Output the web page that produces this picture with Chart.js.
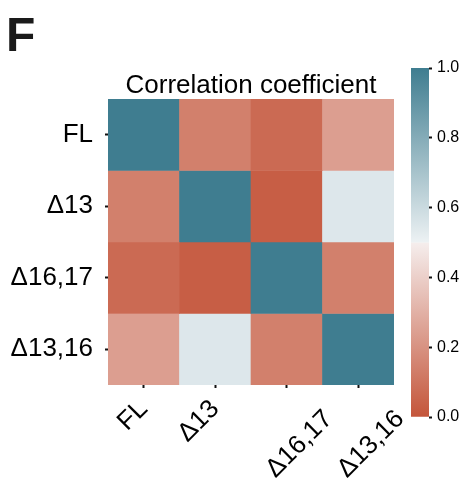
<!DOCTYPE html>
<html>
<head>
<meta charset="utf-8">
<script src="https://cdn.jsdelivr.net/npm/chart.js@4.4.1/dist/chart.umd.min.js"></script>
<style>
    body { margin: 0; background: #fff; }
    #wrap { position: relative; width: 463px; height: 482px; }
    #panel { position: absolute; left: 6px; top: 11px; font: bold 48px "Liberation Sans", Arial, sans-serif; line-height: 1; color: #1a1a1a; }
    #heat { position: absolute; left: 0; top: 0; }
    #cbar { position: absolute; left: 400px; top: 40px; }
</style>
</head>
<body>
<div id="wrap">
    <canvas id="heat" width="463" height="482"></canvas>
    <canvas id="cbar" width="63" height="400"></canvas>
    <div id="panel">F</div>
</div>
<script>
var rowLabels = ["FL", "Δ13", "Δ16,17", "Δ13,16"];
var colLabels = ["FL", "Δ13", "Δ16,17", "Δ13,16"];
var corrFL = [1.0, 0.14, 0.07, 0.24];
var corrD13 = [0.14, 1.0, 0.03, 0.545];
var corrD1617 = [0.07, 0.03, 1.0, 0.14];
var corrD1316 = [0.24, 0.545, 0.14, 1.0];
var corrRows = [corrFL, corrD13, corrD1617, corrD1316];
var cbarTicks = [0, 0.2, 0.4, 0.6, 0.8, 1.0];

// diverging map, red at 0, light grey at 0.5, teal at 1
var cmapPos = [0, 0.497, 0.5, 0.503, 1];
var cmapRgb = [[196, 85, 58], [245, 237, 236], [242, 242, 242], [236, 241, 243], [63, 125, 144]];

function cmap(v) {
    v = Math.max(0, Math.min(1, v));
    for (var i = 1; i < cmapPos.length; i++) {
        if (v <= cmapPos[i]) {
            var t = (v - cmapPos[i - 1]) / (cmapPos[i] - cmapPos[i - 1]);
            var a = cmapRgb[i - 1], b = cmapRgb[i];
            return "rgb(" + [0, 1, 2].map(function (k) { return Math.round(a[k] + (b[k] - a[k]) * t); }).join(",") + ")";
        }
    }
    return "rgb(" + cmapRgb[cmapRgb.length - 1].join(",") + ")";
}

Chart.defaults.font.family = '"Liberation Sans", Arial, sans-serif';
Chart.defaults.color = "#000";

var tickGrid = { drawOnChartArea: false, drawTicks: true, tickLength: 3, tickWidth: 2, tickColor: "#111", offset: false };

new Chart(document.getElementById("heat"), {
    type: "bar",
    data: {
        labels: colLabels,
        datasets: rowLabels.map(function (name, r) {
            return {
                label: name,
                data: colLabels.map(function () { return [r, r + 1]; }),
                backgroundColor: corrRows[r].map(cmap),
                borderWidth: 0,
                barPercentage: 1,
                categoryPercentage: 1,
                grouped: false,
                xAxisID: "x",
                yAxisID: "y"
            };
        })
    },
    options: {
        responsive: false,
        animation: false,
        layout: { padding: { top: 73, left: 0, right: 69, bottom: 0 }, autoPadding: false },
        plugins: {
            legend: { display: false },
            tooltip: { enabled: false },
            title: {
                display: true,
                text: "Correlation coefficient",
                fullSize: false,
                color: "#000",
                font: { size: 26, weight: "normal", lineHeight: 1 },
                padding: { top: 0, bottom: 0 }
            }
        },
        scales: {
            x: {
                type: "category",
                position: "bottom",
                offset: true,
                grid: tickGrid,
                border: { display: false },
                ticks: {
                    autoSkip: false, minRotation: 45, maxRotation: 45, padding: 6,
                    font: { size: 26 }, color: "#000",
                    callback: function (v, i) { return i < 2 ? colLabels[i] : ""; }
                },
                afterFit: function (s) { s.height = 97; }
            },
            // second label row for the two long names, which sit further right in the original
            x2: {
                type: "category",
                position: { y: 4 },
                offset: true,
                grid: { display: false, drawTicks: false },
                border: { display: false },
                ticks: {
                    autoSkip: false, minRotation: 45, maxRotation: 45, padding: 19, labelOffset: 42,
                    font: { size: 26 }, color: "#000",
                    callback: function (v, i) { return i >= 2 ? colLabels[i] : ""; }
                }
            },
            y: {
                type: "linear",
                min: 0,
                max: 4,
                reverse: true,
                grid: tickGrid,
                border: { display: false },
                afterBuildTicks: function (s) {
                    s.ticks = rowLabels.map(function (n, i) { return { value: i + 0.5 }; });
                },
                ticks: {
                    padding: 12, font: { size: 26 }, color: "#000",
                    callback: function (v) { return rowLabels[Math.floor(v)]; }
                },
                afterFit: function (s) { s.width = 108; }
            }
        }
    }
});

new Chart(document.getElementById("cbar"), {
    type: "bar",
    data: {
        labels: ["r"],
        datasets: [{
            data: [[0, 1]],
            borderWidth: 0,
            barPercentage: 1,
            categoryPercentage: 1,
            backgroundColor: function (ctx) {
                var a = ctx.chart.chartArea;
                if (!a) return "#ccc";
                var g = ctx.chart.ctx.createLinearGradient(0, a.bottom, 0, a.top);
                cmapPos.forEach(function (p) { g.addColorStop(p, cmap(p)); });
                return g;
            }
        }]
    },
    options: {
        responsive: false,
        animation: false,
        layout: { padding: { top: 28, left: 11, right: 0, bottom: 23 }, autoPadding: false },
        plugins: { legend: { display: false }, tooltip: { enabled: false } },
        scales: {
            x: { display: false },
            y: {
                position: "right",
                min: 0,
                max: 1,
                grid: { drawOnChartArea: false, tickLength: 3, tickWidth: 2, tickColor: "#111" },
                border: { display: false },
                afterBuildTicks: function (s) {
                    s.ticks = cbarTicks.map(function (v) { return { value: v }; });
                },
                ticks: {
                    padding: 5, font: { size: 16 }, color: "#000",
                    callback: function (v) { return v.toFixed(1); }
                },
                afterFit: function (s) { s.width = 34; }
            }
        }
    }
});
</script>
</body>
</html>
